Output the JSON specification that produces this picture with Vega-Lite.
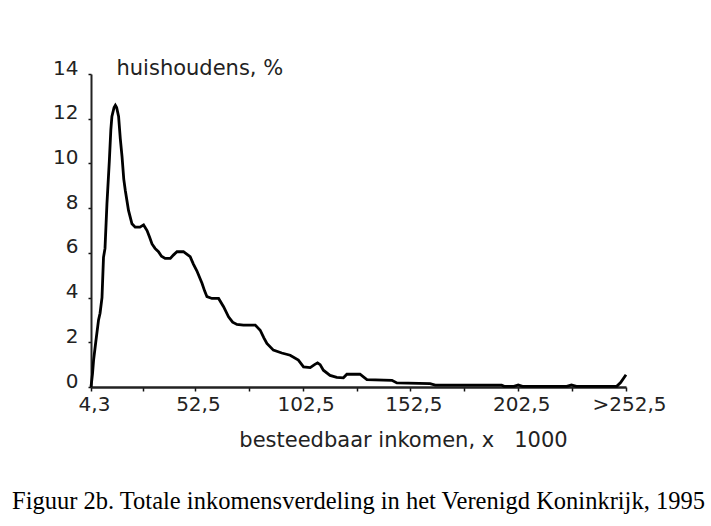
{
  "$schema": "https://vega.github.io/schema/vega-lite/v6.json",
  "width": 535,
  "height": 313,
  "autosize": "none",
  "padding": {"left": 91, "top": 74, "right": 85, "bottom": 139},
  "background": "white",
  "config": {
    "view": {"stroke": null},
    "font": "DejaVu Sans"
  },
  "title": {
    "text": "Figuur 2b. Totale inkomensverdeling in het Verenigd Koninkrijk, 1995",
    "orient": "bottom",
    "anchor": "middle",
    "font": "Liberation Serif",
    "fontSize": 24.5,
    "fontWeight": "normal",
    "color": "black",
    "offset": 40
  },
  "data": {
    "values": [
      {"x": 4.3, "y": 0.0}, {"x": 5.0, "y": 0.6}, {"x": 5.5, "y": 1.2}, {"x": 6.5, "y": 2.0},
      {"x": 7.8, "y": 3.0}, {"x": 8.5, "y": 3.3}, {"x": 9.4, "y": 4.0}, {"x": 10.1, "y": 5.8},
      {"x": 10.8, "y": 6.2}, {"x": 11.7, "y": 8.2}, {"x": 12.8, "y": 10.1}, {"x": 13.5, "y": 11.5},
      {"x": 14.0, "y": 12.1}, {"x": 15.0, "y": 12.5}, {"x": 15.6, "y": 12.6}, {"x": 16.2, "y": 12.5},
      {"x": 17.1, "y": 12.1}, {"x": 17.9, "y": 11.1}, {"x": 18.7, "y": 10.3}, {"x": 19.5, "y": 9.3},
      {"x": 20.2, "y": 8.8}, {"x": 21.7, "y": 7.9}, {"x": 23.3, "y": 7.3}, {"x": 24.8, "y": 7.15},
      {"x": 27.0, "y": 7.15}, {"x": 28.7, "y": 7.25}, {"x": 30.3, "y": 7.0}, {"x": 31.5, "y": 6.7},
      {"x": 32.6, "y": 6.4}, {"x": 34.0, "y": 6.2}, {"x": 35.6, "y": 6.05}, {"x": 37.0, "y": 5.85},
      {"x": 38.7, "y": 5.75}, {"x": 41.1, "y": 5.75}, {"x": 42.5, "y": 5.9}, {"x": 44.2, "y": 6.05},
      {"x": 47.2, "y": 6.05}, {"x": 50.3, "y": 5.83}, {"x": 51.8, "y": 5.5}, {"x": 53.4, "y": 5.2},
      {"x": 55.8, "y": 4.64}, {"x": 57.0, "y": 4.3}, {"x": 58.1, "y": 4.04}, {"x": 60.4, "y": 3.96},
      {"x": 63.5, "y": 3.96}, {"x": 65.8, "y": 3.59}, {"x": 68.1, "y": 3.14}, {"x": 70.0, "y": 2.9},
      {"x": 72.0, "y": 2.8}, {"x": 75.0, "y": 2.77}, {"x": 80.5, "y": 2.77}, {"x": 82.8, "y": 2.54},
      {"x": 84.5, "y": 2.2}, {"x": 85.9, "y": 1.95}, {"x": 88.9, "y": 1.65}, {"x": 92.8, "y": 1.52},
      {"x": 96.7, "y": 1.42}, {"x": 100.5, "y": 1.2}, {"x": 102.9, "y": 0.9}, {"x": 106.0, "y": 0.87},
      {"x": 108.0, "y": 1.0}, {"x": 109.4, "y": 1.08}, {"x": 110.6, "y": 1.0}, {"x": 112.1, "y": 0.75},
      {"x": 115.2, "y": 0.52}, {"x": 118.3, "y": 0.43}, {"x": 121.4, "y": 0.41}, {"x": 123.0, "y": 0.57},
      {"x": 129.1, "y": 0.57}, {"x": 132.3, "y": 0.33}, {"x": 143.9, "y": 0.3}, {"x": 146.2, "y": 0.18},
      {"x": 161.6, "y": 0.15}, {"x": 164.0, "y": 0.08}, {"x": 194.8, "y": 0.08}, {"x": 196.0, "y": 0.03},
      {"x": 200.5, "y": 0.03}, {"x": 202.5, "y": 0.09}, {"x": 204.5, "y": 0.03}, {"x": 225.0, "y": 0.03},
      {"x": 227.2, "y": 0.09}, {"x": 229.5, "y": 0.03}, {"x": 248.2, "y": 0.03}, {"x": 250.0, "y": 0.2},
      {"x": 252.5, "y": 0.55}
    ]
  },
  "mark": {"type": "line", "color": "black", "strokeWidth": 2.8, "interpolate": "linear"},
  "encoding": {
    "x": {
      "field": "x",
      "type": "quantitative",
      "scale": {"domain": [4.3, 252.5], "nice": false, "zero": false},
      "axis": {
        "values": [4.3, 28.4, 52.5, 77.5, 102.5, 127.5, 152.5, 177.5, 202.5, 227.5, 252.5],
        "labelExpr": "datum.value == 4.3 ? '4,3' : datum.value == 252.5 ? '>252,5' : (datum.value == 52.5 || datum.value == 102.5 || datum.value == 152.5 || datum.value == 202.5) ? replace(format(datum.value, '.1f'), '.', ',') : ''",
        "grid": false,
        "domainColor": "#222",
        "domainWidth": 2.5,
        "tickColor": "#111",
        "tickWidth": 1.5,
        "tickSize": 4,
        "labelFont": "DejaVu Sans",
        "labelFontSize": 20,
        "labelColor": "#222",
        "labelPadding": 3,
        "labelOffset": 3,
        "labelFlush": false,
        "labelOverlap": false,
        "title": "besteedbaar inkomen, x\u00a0\u00a0\u00a01000",
        "titleFont": "DejaVu Sans",
        "titleFontSize": 21,
        "titleFontWeight": "normal",
        "titleColor": "#222",
        "titleX": 312,
        "titleY": 53,
        "titleAlign": "center",
        "titleBaseline": "middle"
      }
    },
    "y": {
      "field": "y",
      "type": "quantitative",
      "scale": {"domain": [0, 14], "nice": false},
      "axis": {
        "values": [0, 2, 4, 6, 8, 10, 12, 14],
        "grid": false,
        "domainColor": "#222",
        "domainWidth": 2,
        "tickColor": "#111",
        "tickWidth": 1.5,
        "tickSize": 3,
        "labelFont": "DejaVu Sans",
        "labelFontSize": 20,
        "labelColor": "#222",
        "labelPadding": 10,
        "labelBaseline": "alphabetic",
        "labelFlush": false,
        "labelOverlap": false,
        "title": "huishoudens, %",
        "titleFont": "DejaVu Sans",
        "titleFontSize": 21,
        "titleFontWeight": "normal",
        "titleColor": "#222",
        "titleAngle": 0,
        "titleX": 25,
        "titleY": -6,
        "titleAlign": "left",
        "titleBaseline": "middle"
      }
    }
  }
}
